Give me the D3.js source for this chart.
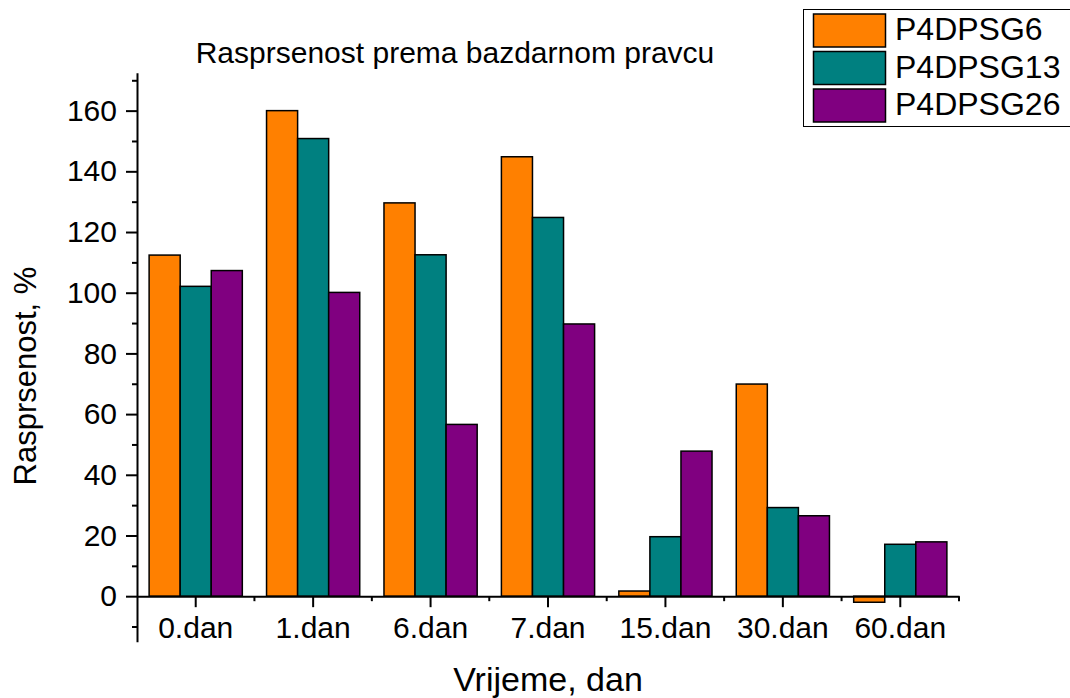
<!DOCTYPE html>
<html>
<head>
<meta charset="utf-8">
<script src="https://cdn.jsdelivr.net/npm/d3@7"></script>
<style>
  body { margin: 0; background: #fff; }
  text { font-family: "Liberation Sans", Arial, sans-serif; fill: #000; }
</style>
</head>
<body>
<div id="container"></div>
<script>
/* CONSTANTS AND GLOBALS */
const width = 1070,
  height = 698;

// data
const categories = ["0.dan", "1.dan", "6.dan", "7.dan", "15.dan", "30.dan", "60.dan"];
const seriesNames = ["P4DPSG6", "P4DPSG13", "P4DPSG26"];
const colors = ["#FF8000", "#008080", "#800080"];
const p4dpsg6 = [112.4, 160, 129.6, 144.8, 1.7, 69.9, -2.0];
const p4dpsg13 = [102.1, 150.8, 112.5, 124.8, 19.6, 29.2, 17.1];
const p4dpsg26 = [107.3, 100.1, 56.6, 89.7, 47.8, 26.5, 17.9];
const yMajorTicks = [0, 20, 40, 60, 80, 100, 120, 140, 160];
const yMinorTicks = [-10, 10, 30, 50, 70, 90, 110, 130, 150, 170];

const seriesValues = [p4dpsg6, p4dpsg13, p4dpsg26];

const svg = d3.select("#container")
  .append("svg")
  .attr("width", width)
  .attr("height", height);

// scales
const xScale = d3.scaleBand()
  .domain(categories)
  .range([137, 959])
  .padding(0);

const xSub = d3.scaleBand()
  .domain(seriesNames)
  .range([0, xScale.bandwidth()])
  .paddingInner(0)
  .paddingOuter(0.39);

const yScale = d3.scaleLinear()
  .domain([-15, 172.5])
  .range([641.7, 72.7]);

// bars
const groups = svg.selectAll(".group")
  .data(categories)
  .join("g")
  .attr("class", "group")
  .attr("transform", d => `translate(${xScale(d)},0)`);

groups.selectAll("rect")
  .data((c, i) => seriesNames.map((s, j) => ({ s, j, v: seriesValues[j][i] })))
  .join("rect")
  .attr("x", d => xSub(d.s))
  .attr("width", xSub.bandwidth())
  .attr("y", d => yScale(Math.max(0, d.v)))
  .attr("height", d => Math.abs(yScale(d.v) - yScale(0)))
  .attr("fill", d => colors[d.j])
  .attr("stroke", "#000")
  .attr("stroke-width", 1.5);

// y axis
const yAxis = d3.axisLeft(yScale)
  .tickValues(yMajorTicks)
  .tickSize(11)
  .tickSizeOuter(0)
  .tickPadding(9);

const yAxisGroup = svg.append("g")
  .attr("transform", "translate(137,0)")
  .call(yAxis);

yAxisGroup.selectAll("text").style("font-size", "30px");

svg.append("g")
  .attr("transform", "translate(137,0)")
  .call(d3.axisLeft(yScale).tickValues(yMinorTicks).tickSize(5).tickFormat("").tickSizeOuter(0))
  .select(".domain").remove();

// x axis at zero
const xAxis = d3.axisBottom(xScale)
  .tickSize(11)
  .tickSizeOuter(0)
  .tickPadding(10);

const xAxisGroup = svg.append("g")
  .attr("transform", `translate(0,${yScale(0)})`)
  .call(xAxis);

xAxisGroup.selectAll("text").style("font-size", "30px");

// minor ticks on band boundaries
const boundaries = categories.map(c => xScale(c) + xScale.bandwidth());
svg.append("g")
  .selectAll("line")
  .data(boundaries)
  .join("line")
  .attr("x1", d => d)
  .attr("x2", d => d)
  .attr("y1", yScale(0))
  .attr("y2", yScale(0) + 5)
  .attr("stroke", "#000")
  .attr("stroke-width", 2);

svg.selectAll(".domain, .tick line")
  .attr("stroke-width", 2);

// titles
svg.append("text")
  .attr("x", 455)
  .attr("y", 63)
  .attr("text-anchor", "middle")
  .style("font-size", "30px")
  .text("Rasprsenost prema bazdarnom pravcu");

svg.append("text")
  .attr("x", 548)
  .attr("y", 691)
  .attr("text-anchor", "middle")
  .style("font-size", "34px")
  .text("Vrijeme, dan");

svg.append("text")
  .attr("transform", "translate(36,376) rotate(-90)")
  .attr("text-anchor", "middle")
  .style("font-size", "31px")
  .text("Rasprsenost, %");

// legend
const legend = svg.append("g");

legend.append("rect")
  .attr("x", 803.5)
  .attr("y", 9.5)
  .attr("width", 300)
  .attr("height", 117)
  .attr("fill", "#fff")
  .attr("stroke", "#000")
  .attr("stroke-width", 1);

const items = legend.selectAll(".item")
  .data(seriesNames)
  .join("g")
  .attr("class", "item")
  .attr("transform", (d, i) => `translate(0,${14 + i * 37.5})`);

items.append("rect")
  .attr("x", 813.5)
  .attr("y", 0)
  .attr("width", 72)
  .attr("height", 33)
  .attr("fill", (d, i) => colors[i])
  .attr("stroke", "#000")
  .attr("stroke-width", 1.5);

items.append("text")
  .attr("x", 895)
  .attr("y", 26)
  .style("font-size", "32px")
  .text(d => d);
</script>
</body>
</html>
